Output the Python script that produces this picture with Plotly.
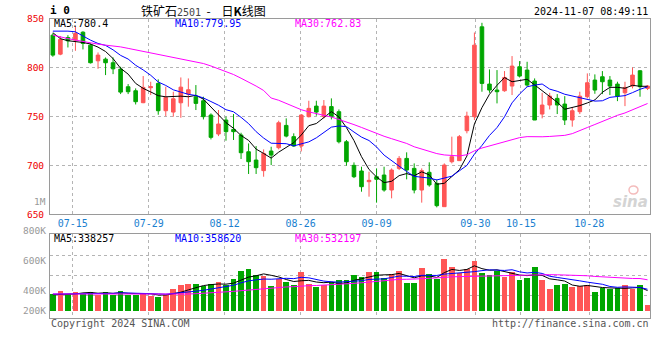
import plotly.graph_objects as go

# ---------------- data ----------------
dates = ["07-10", "07-11", "07-12", "07-15", "07-16", "07-17", "07-18", "07-19", "07-22", "07-23",
         "07-24", "07-25", "07-26", "07-29", "07-30", "07-31", "08-01", "08-02", "08-05", "08-06",
         "08-07", "08-08", "08-09", "08-12", "08-13", "08-14", "08-15", "08-16", "08-19", "08-20",
         "08-21", "08-22", "08-23", "08-26", "08-27", "08-28", "08-29", "08-30", "09-02", "09-03",
         "09-04", "09-05", "09-06", "09-09", "09-10", "09-11", "09-12", "09-13", "09-18", "09-19",
         "09-20", "09-23", "09-24", "09-25", "09-26", "09-27", "09-30", "10-08", "10-09", "10-10",
         "10-11", "10-14", "10-15", "10-16", "10-17", "10-18", "10-21", "10-22", "10-23", "10-24",
         "10-25", "10-28", "10-29", "10-30", "10-31", "11-01", "11-04", "11-05", "11-06", "11-07"]

opens = [833.0, 813.6, 830.6, 827.9, 836.0, 822.8, 806.8, 808.5, 804.8, 798.3,
         780.3, 776.2, 764.0, 779.3, 783.7, 755.8, 754.4, 763.9, 772.8, 770.1,
         766.0, 751.4, 732.0, 746.3, 736.7, 731.0, 713.9, 705.4, 694.6, 714.6,
         718.0, 740.8, 729.3, 719.7, 749.7, 760.5, 749.7, 760.0, 754.8, 724.1,
         700.0, 694.2, 683.3, 688.4, 690.1, 674.8, 696.9, 707.1, 696.9, 674.8,
         692.9, 681.6, 657.8, 703.7, 704.8, 735.4, 749.7, 841.5, 783.0, 776.9,
         776.2, 781.0, 800.7, 797.3, 786.1, 752.4, 761.6, 768.4, 762.6, 746.3,
         754.8, 770.1, 787.1, 790.5, 787.1, 783.0, 774.1, 781.0, 796.6, 778.6]

closes = [812.6, 828.6, 827.2, 834.7, 824.5, 804.8, 812.6, 804.8, 798.6, 774.8,
          775.2, 765.0, 779.6, 780.3, 755.8, 769.4, 768.0, 779.9, 777.2, 763.3,
          749.7, 728.6, 742.2, 734.4, 734.4, 712.9, 703.7, 697.6, 712.2, 710.5,
          743.5, 729.9, 719.7, 751.4, 758.2, 754.4, 760.5, 750.0, 724.1, 703.7,
          688.4, 678.2, 684.7, 685.7, 674.8, 695.2, 707.1, 695.2, 674.8, 694.6,
          680.0, 658.8, 700.3, 708.8, 729.3, 750.3, 822.8, 783.7, 776.9, 775.2,
          789.8, 801.4, 791.2, 782.0, 746.3, 761.6, 770.7, 761.6, 746.3, 755.8,
          770.7, 784.4, 776.9, 785.4, 781.0, 770.7, 779.6, 792.2, 780.3, 781.0]

highs = [835.0, 832.0, 833.0, 841.5, 837.0, 824.5, 815.3, 810.2, 810.2, 800.7,
         783.0, 778.6, 791.2, 785.4, 787.8, 780.3, 775.2, 789.8, 788.8, 782.0,
         770.1, 753.1, 756.5, 749.7, 752.4, 733.3, 722.4, 719.7, 716.3, 719.0,
         745.6, 748.0, 732.7, 752.4, 766.0, 766.0, 766.7, 768.4, 757.1, 725.9,
         703.0, 698.6, 693.5, 696.9, 698.6, 696.9, 709.5, 713.3, 702.0, 696.9,
         703.1, 685.7, 702.0, 729.3, 731.0, 754.8, 835.7, 845.6, 798.0, 797.3,
         796.3, 811.6, 806.5, 805.8, 788.8, 774.1, 774.1, 772.8, 770.7, 759.2,
         775.2, 793.9, 792.9, 796.3, 791.2, 785.4, 785.4, 800.0, 797.3, 782.0]

lows = [810.9, 812.5, 820.4, 817.0, 818.4, 804.1, 798.6, 792.2, 793.2, 772.8,
        772.8, 762.2, 763.5, 771.8, 751.7, 750.3, 749.7, 748.6, 759.9, 756.5,
        746.9, 726.5, 729.9, 725.2, 725.9, 706.5, 691.2, 691.2, 688.4, 700.3,
        716.3, 728.6, 719.0, 714.2, 749.0, 750.7, 748.0, 746.9, 722.4, 699.7,
        687.0, 673.1, 668.0, 661.9, 673.1, 666.3, 695.2, 685.7, 671.4, 661.9,
        678.2, 657.1, 657.8, 702.0, 704.8, 732.7, 746.3, 775.2, 774.1, 763.3,
        775.2, 771.8, 789.8, 780.3, 746.3, 748.0, 757.1, 752.4, 741.2, 739.5,
        752.4, 768.4, 773.1, 772.8, 771.8, 765.6, 760.5, 778.6, 770.1, 776.9]

volumes = [281700, 338000, 281700, 321100, 281700, 321100, 270400, 321100, 270400, 338000,
           264800, 264800, 304200, 253500, 236600, 264800, 371800, 433700, 450600, 450600,
           416800, 450600, 490100, 433700, 535100, 676000, 704100, 602700, 591500, 416800,
           535100, 490100, 433700, 653400, 450600, 394300, 433700, 490100, 518200, 518200,
           602700, 568900, 653400, 653400, 552000, 619600, 670300, 467500, 467500, 721000,
           619600, 535100, 873100, 737900, 636500, 704100, 839300, 636500, 602700, 670300,
           568900, 653400, 518200, 552000, 737900, 518200, 366100, 433700, 450600, 399900,
           416800, 433700, 321100, 388700, 366100, 377400, 433700, 360500, 433700, 95800]

# moving-average values at the start of the window (history not shown)
ma5_head = [835.5, 829.4, 827.3, 826.7]
ma10_head = [837.1, 837.4, 837.1, 836.4, 832.0, 827.9, 824.5, 822.5, 818.0]
ma30_head = [833.0, 831.0, 829.5, 828.0, 826.5, 825.0, 823.8, 822.8, 822.0, 821.0,
             819.5, 818.0, 816.5, 815.0, 813.5, 812.0, 810.5, 809.0, 807.5, 806.0,
             804.0, 801.5, 798.8, 796.0, 792.8, 789.0, 785.3, 781.0, 776.5]
vma5_head = [270400, 270400, 276000, 281700]
vma10_head = [281700, 281700, 281700, 281700, 281700, 281700, 281700, 287300, 292900]
vma30_head = [281700, 281700, 276000, 276000, 276000, 270400, 270400, 270400, 270400, 270400,
              270400, 270400, 270400, 270400, 270400, 270400, 270400, 276000, 281700, 287300,
              292900, 298500, 304200, 315400, 326700, 338000, 349200, 360500, 371800]

tick_dates = ["07-15", "07-29", "08-12", "08-26", "09-09", "09-30", "10-15", "10-28"]
price_ticks = [650, 700, 750, 800, 850]
vol_labels = ["800K", "600K", "400K", "200K"]

title_text = ("铁矿石<span style='font-family:DejaVu Sans Mono;font-size:10px;color:#444'>2501</span>"
              "&nbsp;&nbsp;-&nbsp;&nbsp;&nbsp;&nbsp;日<b>K</b>线图")
stamp_text = "2024-11-07 08:49:11"
legend_price = ["MA5:780.4", "MA10:779.95", "MA30:762.83"]
legend_vol = ["MA5:338257", "MA10:358620", "MA30:532197"]

# ---------------- helpers ----------------
def mavg(vals, n, head):
    out = list(head)
    for i in range(len(head), len(vals)):
        out.append(sum(vals[i - n + 1:i + 1]) / n)
    return out

ma5 = mavg(closes, 5, ma5_head)
ma10 = mavg(closes, 10, ma10_head)
ma30 = mavg(closes, 30, ma30_head)
vma5 = mavg(volumes, 5, vma5_head)
vma10 = mavg(volumes, 10, vma10_head)
vma30 = mavg(volumes, 30, vma30_head)

W, H = 660, 360
ML, MR = 50, 10
PW = W - ML - MR
C0, PITCH = 52.85, 7.528  # first candle centre / candle pitch in px

def fx(px):
    return (px - ML) / PW

def fy(py):
    return 1 - py / H

RED = "#ff5656"
GREEN = "#00a600"
GRID = "#b4b4b4"
BORDER = "#9a9a9a"
MONO = "DejaVu Sans Mono"
BLUE_T = "#1a7fd0"

idx = list(range(len(dates)))
tick_idx = [dates.index(d) for d in tick_dates]
tick_x = [i * 1.0092 - 0.39 for i in tick_idx]
x_range = [(ML - C0) / PITCH, (ML + PW - C0) / PITCH]

VOL_PER_PX = 16900
VOL_BASE_PX, VOL_TOP_PX, VOL_BOT_PX = 310.7, 234.3, 318.3
vol_range = [-(VOL_BOT_PX - VOL_BASE_PX) * VOL_PER_PX, (VOL_BASE_PX - VOL_TOP_PX) * VOL_PER_PX]
vol_grid = [(VOL_BASE_PX - p) * VOL_PER_PX for p in (295.7, 275.7, 255.7)]

bar_colors = [RED if c >= o else GREEN for o, c in zip(opens, closes)]

fig = go.Figure()
fig.add_trace(go.Candlestick(
    x=idx, open=opens, high=highs, low=lows, close=closes,
    increasing=dict(line=dict(color=RED, width=1), fillcolor=RED),
    decreasing=dict(line=dict(color=GREEN, width=1), fillcolor=GREEN),
    whiskerwidth=0, xaxis="x", yaxis="y", hoverinfo="skip"))
for series, col in ((ma5, "#000000"), (ma10, "#0000ff"), (ma30, "#ff00ff")):
    fig.add_trace(go.Scatter(x=idx, y=series, mode="lines", line=dict(color=col, width=1),
                             xaxis="x", yaxis="y", hoverinfo="skip"))

fig.add_trace(go.Bar(x=idx, y=volumes, marker=dict(color=bar_colors, line=dict(width=0)),
                     width=0.76, xaxis="x2", yaxis="y2", hoverinfo="skip"))
for series, col in ((vma5, "#000000"), (vma10, "#0000ff"), (vma30, "#ff00ff")):
    fig.add_trace(go.Scatter(x=idx, y=series, mode="lines", line=dict(color=col, width=1),
                             xaxis="x2", yaxis="y2", hoverinfo="skip"))

axis_common = dict(showgrid=True, gridcolor=GRID, griddash="dot", gridwidth=1,
                   showline=True, linecolor=BORDER, linewidth=1, mirror=True,
                   zeroline=False, ticks="", automargin=False, fixedrange=True)

fig.update_layout(
    template="none",
    width=W, height=H,
    margin=dict(l=ML, r=MR, t=0, b=0, pad=0),
    paper_bgcolor="white", plot_bgcolor="white",
    showlegend=False, boxgap=0.32, bargap=0,
    font=dict(family=MONO, size=10, color="#000"),
    xaxis=dict(domain=[0, 1], anchor="y", range=x_range, tickmode="array",
               tickvals=tick_x, ticktext=tick_dates,
               tickfont=dict(family=MONO, size=10, color=BLUE_T),
               rangeslider=dict(visible=False), ticklabelstandoff=0, **axis_common),
    yaxis=dict(domain=[fy(214.3), fy(18.5)], anchor="x", range=[650, 850], tickmode="array",
               tickvals=price_ticks, ticktext=[str(v) for v in price_ticks],
               tickfont=dict(family=MONO, size=9.5, color="#ee0000"),
               ticklabelstandoff=3, **axis_common),
    xaxis2=dict(domain=[0, 1], anchor="y2", matches="x", range=x_range, tickmode="array",
                tickvals=tick_x, showticklabels=False, **axis_common),
    yaxis2=dict(domain=[fy(VOL_BOT_PX), fy(VOL_TOP_PX)], anchor="x2", range=vol_range,
                tickmode="array", tickvals=vol_grid, showticklabels=False, **axis_common),
)

ann = []

def text(x, y, s, color="#000", size=10, xanchor="left", family=MONO):
    ann.append(dict(x=fx(x), y=fy(y), xref="paper", yref="paper", text=s, showarrow=False,
                    xanchor=xanchor, yanchor="middle", borderpad=0,
                    font=dict(family=family, size=size, color=color)))

text(49, 10.8, "<b>i 0</b>", size=11)
text(139.5, 10.5, title_text, size=12, family="Noto Sans CJK SC")
text(649, 12, stamp_text, xanchor="right")
for s, x, c in zip(legend_price, (53, 173.5, 294), ("#000000", "#0000ff", "#ff00ff")):
    text(x, 23.7, s, color=c)
for s, x, c in zip(legend_vol, (53, 173.5, 294), ("#000000", "#0000ff", "#ff00ff")):
    text(x, 238.3, s, color=c)
text(46.5, 201, "1M", color="#999999", size=9.5, xanchor="right")
for s, y in zip(vol_labels, (230.7, 260.7, 290, 310.7)):
    text(46.5, y, s, color="#999999", size=9.5, xanchor="right")
text(49.5, 323.7, "Copyright 2024 SINA.COM", color="#555555")
text(649.5, 323.7, "http://finance.sina.com.cn", color="#555555", xanchor="right")
text(649, 202, "<b><i>sina</i></b>", color="#d4d4d4", size=15, xanchor="right", family="DejaVu Sans")

fig.update_layout(annotations=ann, shapes=[
    dict(type="circle", xref="paper", yref="paper", x0=fx(629), x1=fx(638), y0=fy(194), y1=fy(186),
         line=dict(color="#f4bcbc", width=1.5), fillcolor="rgba(0,0,0,0)", layer="above")])

fig.write_html("out.html", config={"displayModeBar": False, "staticPlot": True},
               post_script="document.body.style.margin='0';document.body.style.overflow='hidden';")
